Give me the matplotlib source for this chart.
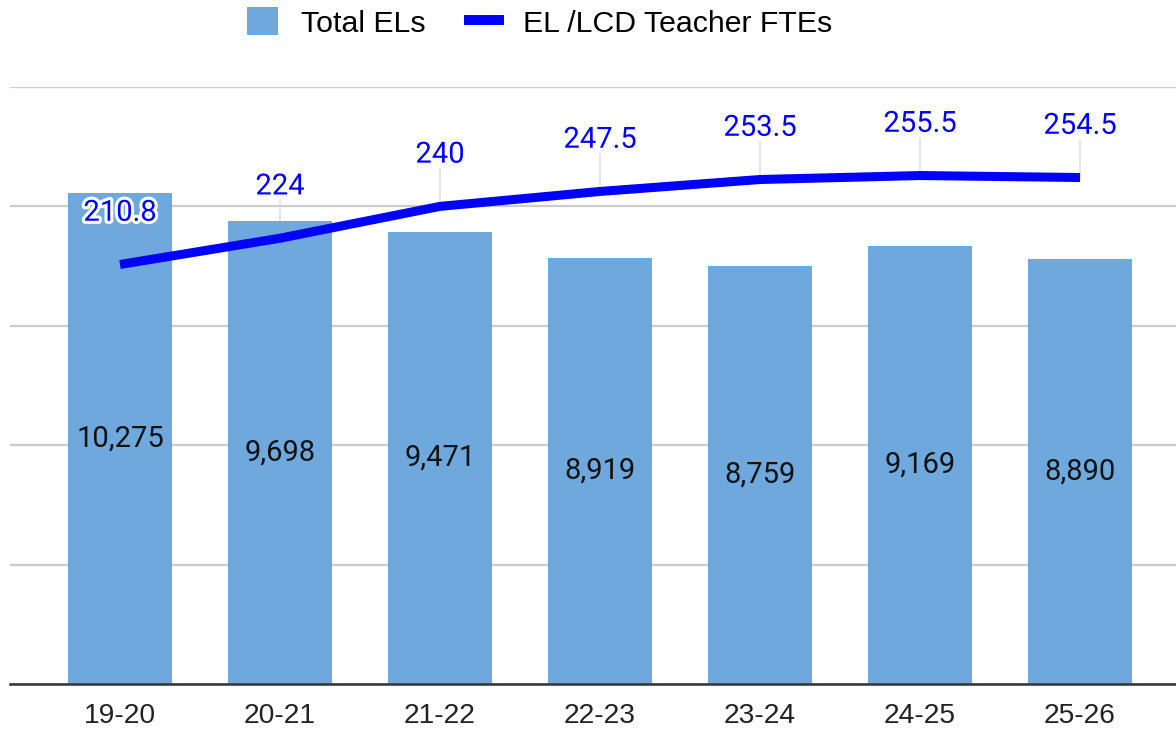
import matplotlib.pyplot as plt
import matplotlib.patheffects as pe
from matplotlib.patches import Patch
from matplotlib.lines import Line2D

years = ["19-20", "20-21", "21-22", "22-23", "23-24", "24-25", "25-26"]
total_els = [10275, 9698, 9471, 8919, 8759, 9169, 8890]
teacher_ftes = [210.8, 224, 240, 247.5, 253.5, 255.5, 254.5]

bar_color = "#6fa8dc"
line_color = "#0000ff"
y1_max = 12500
y2_max = 300

fig = plt.figure(figsize=(11.76, 7.29), dpi=100)
ax = fig.add_axes([0.0085, 0.0617, 0.9915, 0.819])
ax2 = ax.twinx()

x = range(len(years))
ax.bar(x, total_els, width=0.65, color=bar_color, zorder=2)
for i, v in enumerate(total_els):
    ax.text(i, v / 2, f"{v:,}", ha="center", va="center", fontsize=21,
            family="Roboto", color="#111111", zorder=3)

ax.set_ylim(0, y1_max)
ax.set_xlim(-0.6875, 6.6)
ax.set_yticks(range(0, y1_max + 1, 2500))
ax.yaxis.grid(True, color="#cccccc", linewidth=1.6)
ax.set_axisbelow(True)
ax.set_xticks(list(x))
ax.set_xticklabels(years, fontsize=20.3, family="Liberation Sans", color="#222222")
ax.tick_params(axis="x", length=0, pad=14)
ax.tick_params(axis="y", length=0, labelleft=False)
for s in ["top", "right", "left"]:
    ax.spines[s].set_visible(False)
ax.spines["bottom"].set_color("#333333")
ax.spines["bottom"].set_linewidth(1.8)

# leader lines behind bars (drawn in primary axis units)
scale = y1_max / y2_max
for i, v in enumerate(teacher_ftes):
    ax.plot([i, i], [v * scale, (v + 19) * scale], color="#e0e0e0",
            linewidth=1.2, zorder=1)

ax2.plot(list(x), teacher_ftes, color=line_color, linewidth=6.5,
         solid_capstyle="butt", solid_joinstyle="round")
for i, v in enumerate(teacher_ftes):
    ax2.text(i, v + 26, f"{v:g}", ha="center", va="center", fontsize=21,
             family="Roboto", color=line_color,
             path_effects=[pe.withStroke(linewidth=4.5, foreground="white")])
ax2.set_ylim(0, y2_max)
ax2.set_yticks([])
for s in ["top", "right", "left", "bottom"]:
    ax2.spines[s].set_visible(False)

handles = [Patch(facecolor=bar_color, edgecolor="none"),
           Line2D([0], [0], color=line_color, linewidth=7.2)]
fig.legend(handles, ["Total ELs", "EL /LCD Teacher FTEs"], loc="center",
           bbox_to_anchor=(0.459, 0.969), ncol=2, frameon=False,
           prop={"family": "Liberation Sans", "size": 21.8},
           handlelength=1.0, handleheight=1.05, columnspacing=1.42,
           handletextpad=0.78, borderpad=0)

fig.savefig("out.png", dpi=100)
